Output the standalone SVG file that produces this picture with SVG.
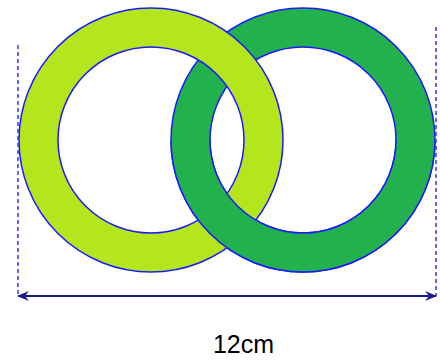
<svg xmlns="http://www.w3.org/2000/svg" width="440" height="360" viewBox="0 0 440 360">
<style>
.ring{stroke:#1a1aff;stroke-width:1.5;fill-rule:evenodd}
.light{fill:#b5e61d}
.dark{fill:#22b14c}
.dash{stroke:#3333ff;stroke-width:1.5;stroke-dasharray:4 3;fill:none}
.dim{stroke:#1a1a8c;stroke-width:2;fill:none}
.lbl{font-family:"Liberation Sans",Arial,sans-serif;font-size:25px;fill:#000}
</style>
<defs>
<marker id="ah" viewBox="0 0 12 10" refX="11" refY="5" markerWidth="12" markerHeight="10" markerUnits="userSpaceOnUse" orient="auto-start-reverse">
<path d="M0,0 L12,5 L0,10 L4,5 Z" fill="#1a1a8c"/>
</marker>
<clipPath id="bottom"><rect x="0" y="140" width="440" height="220"/></clipPath>
<path id="darkRing" d="M435,140 A132,132 0 1,0 171,140 A132,132 0 1,0 435,140 Z M396,140 A93,93 0 1,0 210,140 A93,93 0 1,0 396,140 Z"/>
</defs>
<g id="ring-dark"><use href="#darkRing" class="ring dark"/></g>
<g id="ring-light"><path class="ring light" d="M283,140 A132,132 0 1,0 19,140 A132,132 0 1,0 283,140 Z M244,140 A93,93 0 1,0 58,140 A93,93 0 1,0 244,140 Z"/></g>
<g id="ring-dark-front" clip-path="url(#bottom)"><use href="#darkRing" class="ring dark"/></g>
<g id="connectors">
<line class="dash" x1="18" y1="45" x2="18" y2="296"/>
<line class="dash" x1="436" y1="27" x2="436" y2="296"/>
<line class="dim" x1="18" y1="296" x2="436" y2="296" marker-start="url(#ah)" marker-end="url(#ah)"/>
</g>
<g id="label"><text class="lbl" x="243.5" y="353" text-anchor="middle">12cm</text></g>
</svg>
